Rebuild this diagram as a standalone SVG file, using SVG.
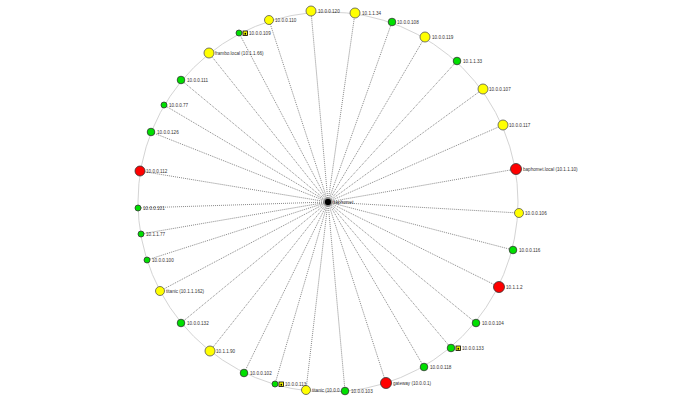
<svg xmlns="http://www.w3.org/2000/svg" width="690" height="410" viewBox="0 0 690 410">
<style>
.ring{fill:none;stroke:#d4d4d4;stroke-width:1}
.e{stroke:#555;stroke-width:0.7;stroke-dasharray:1 1;fill:none}
.y{fill:#ffff00;stroke:#555;stroke-width:0.8}
.g{fill:#00e000;stroke:#333;stroke-width:0.8}
.r{fill:#ff0000;stroke:#333;stroke-width:0.8}
text{font-family:"Liberation Sans",Arial,sans-serif;font-size:4.6px;fill:#333}
.ic{fill:#ffff00;stroke:#000;stroke-width:0.8}
</style>
<rect width="690" height="410" fill="#fff"/>
<circle class="ring" cx="328" cy="202" r="190"/>
<g id="edges">
<line class="e" x1="328" y1="202" x2="311" y2="11"/>
<line class="e" x1="328" y1="202" x2="355" y2="13"/>
<line class="e" x1="328" y1="202" x2="392" y2="22"/>
<line class="e" x1="328" y1="202" x2="425" y2="37"/>
<line class="e" x1="328" y1="202" x2="457" y2="61"/>
<line class="e" x1="328" y1="202" x2="483" y2="89"/>
<line class="e" x1="328" y1="202" x2="503" y2="125"/>
<line class="e" x1="328" y1="202" x2="516" y2="169"/>
<line class="e" x1="328" y1="202" x2="519" y2="213"/>
<line class="e" x1="328" y1="202" x2="513" y2="250"/>
<line class="e" x1="328" y1="202" x2="499" y2="287"/>
<line class="e" x1="328" y1="202" x2="476" y2="323"/>
<line class="e" x1="328" y1="202" x2="451" y2="348"/>
<line class="e" x1="328" y1="202" x2="424" y2="367"/>
<line class="e" x1="328" y1="202" x2="386" y2="383"/>
<line class="e" x1="328" y1="202" x2="345" y2="391"/>
<line class="e" x1="328" y1="202" x2="306" y2="390"/>
<line class="e" x1="328" y1="202" x2="275" y2="384"/>
<line class="e" x1="328" y1="202" x2="244" y2="373"/>
<line class="e" x1="328" y1="202" x2="210" y2="351"/>
<line class="e" x1="328" y1="202" x2="181" y2="323"/>
<line class="e" x1="328" y1="202" x2="160" y2="291"/>
<line class="e" x1="328" y1="202" x2="147" y2="260"/>
<line class="e" x1="328" y1="202" x2="141" y2="234"/>
<line class="e" x1="328" y1="202" x2="138" y2="208"/>
<line class="e" x1="328" y1="202" x2="140" y2="171"/>
<line class="e" x1="328" y1="202" x2="151" y2="132"/>
<line class="e" x1="328" y1="202" x2="164" y2="105"/>
<line class="e" x1="328" y1="202" x2="181" y2="80"/>
<line class="e" x1="328" y1="202" x2="209" y2="53"/>
<line class="e" x1="328" y1="202" x2="239" y2="33"/>
<line class="e" x1="328" y1="202" x2="269" y2="20"/>
</g>
<g id="n1"><circle class="y" cx="311" cy="11" r="5"/><text x="318" y="13">10.0.0.120</text></g>
<g id="n2"><circle class="y" cx="355" cy="13" r="5"/><text x="362" y="15">10.1.1.34</text></g>
<g id="n3"><circle class="g" cx="392" cy="22" r="3.8"/><text x="397" y="24">10.0.0.108</text></g>
<g id="n4"><circle class="y" cx="425" cy="37" r="5"/><text x="432" y="39">10.0.0.119</text></g>
<g id="n5"><circle class="g" cx="457" cy="61" r="3.8"/><text x="463" y="63">10.1.1.33</text></g>
<g id="n6"><circle class="y" cx="483" cy="89" r="5"/><text x="489" y="91">10.0.0.107</text></g>
<g id="n7"><circle class="y" cx="503" cy="125" r="5"/><text x="509" y="127">10.0.0.117</text></g>
<g id="n8"><circle class="r" cx="516" cy="169" r="5.5"/><text x="523" y="171">baphomet.local (10.1.1.10)</text></g>
<g id="n9"><circle class="y" cx="519" cy="213" r="4.5"/><text x="525" y="215">10.0.0.106</text></g>
<g id="n10"><circle class="g" cx="513" cy="250" r="3.8"/><text x="519" y="252">10.0.0.116</text></g>
<g id="n11"><circle class="r" cx="499" cy="287" r="5.5"/><text x="506" y="289">10.1.1.2</text></g>
<g id="n12"><circle class="g" cx="476" cy="323" r="3.8"/><text x="482" y="325">10.0.0.104</text></g>
<g id="n13"><circle class="g" cx="451" cy="348" r="3.8"/><rect class="ic" x="456" y="346" width="4.5" height="4.5"/><rect x="457.5" y="347.8" width="1.6" height="1.8" fill="#000"/><text x="462" y="350">10.0.0.133</text></g>
<g id="n14"><circle class="g" cx="424" cy="367" r="3.8"/><text x="430" y="369">10.0.0.118</text></g>
<g id="n15"><circle class="r" cx="386" cy="383" r="5.5"/><text x="393" y="385">gateway (10.0.0.1)</text></g>
<g id="n17"><circle class="y" cx="306" cy="390" r="4.5"/><text x="312" y="392">titanic (10.0.0.</text></g>
<g id="n16"><circle class="g" cx="345" cy="391" r="3.8"/><text x="351" y="393">10.0.0.103</text></g>
<g id="n18"><circle class="g" cx="275" cy="384" r="3"/><rect class="ic" x="279" y="382" width="4.5" height="4.5"/><rect x="280.5" y="383.8" width="1.6" height="1.8" fill="#000"/><text x="285" y="386">10.0.0.113</text></g>
<g id="n19"><circle class="g" cx="244" cy="373" r="3.8"/><text x="250" y="375">10.0.0.102</text></g>
<g id="n20"><circle class="y" cx="210" cy="351" r="5"/><text x="216" y="353">10.1.1.90</text></g>
<g id="n21"><circle class="g" cx="181" cy="323" r="3.8"/><text x="187" y="325">10.0.0.132</text></g>
<g id="n22"><circle class="y" cx="160" cy="291" r="4.5"/><text x="166" y="293">titanic (10.1.1.162)</text></g>
<g id="n23"><circle class="g" cx="147" cy="260" r="3"/><text x="152" y="262">10.0.0.100</text></g>
<g id="n24"><circle class="g" cx="141" cy="234" r="3"/><text x="146" y="236">10.1.1.77</text></g>
<g id="n25"><circle class="g" cx="138" cy="208" r="3"/><text x="143" y="210">10.0.0.101</text></g>
<g id="n26"><circle class="r" cx="140" cy="171" r="5"/><text x="146" y="173">10.0.0.112</text></g>
<g id="n27"><circle class="g" cx="151" cy="132" r="3.8"/><text x="157" y="134">10.0.0.126</text></g>
<g id="n28"><circle class="g" cx="164" cy="105" r="3"/><text x="169" y="107">10.0.0.77</text></g>
<g id="n29"><circle class="g" cx="181" cy="80" r="3.8"/><text x="187" y="82">10.0.0.111</text></g>
<g id="n30"><circle class="y" cx="209" cy="53" r="5"/><text x="215" y="55">frambo.local (10.1.1.66)</text></g>
<g id="n31"><circle class="g" cx="239" cy="33" r="3"/><rect class="ic" x="243" y="31" width="4.5" height="4.5"/><rect x="244.5" y="32.8" width="1.6" height="1.8" fill="#000"/><text x="249" y="35">10.0.0.109</text></g>
<g id="n32"><circle class="y" cx="269" cy="20" r="4.5"/><text x="275" y="22">10.0.0.110</text></g>
<g id="center"><circle cx="328" cy="202" r="3.8" fill="#000" stroke="#999" stroke-width="1"/><text x="333" y="204">baphomet</text></g>
</svg>
